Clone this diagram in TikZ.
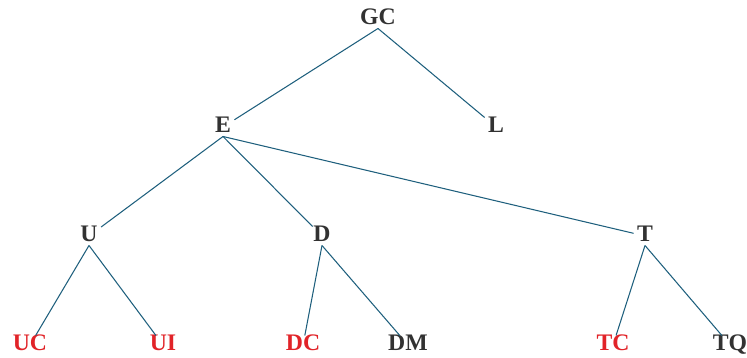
\documentclass[tikz,border=0pt]{standalone}
\usepackage{fontspec}
\setmainfont{Liberation Serif}
\definecolor{edgeblue}{RGB}{30,95,125}
\definecolor{leafred}{RGB}{225,35,40}
\definecolor{darktext}{RGB}{50,50,50}
\begin{document}
\begin{tikzpicture}[x=0.02cm,y=-0.02cm,
    lbl/.style={inner sep=1.8pt,text height=0.68em,text depth=0pt,
        font=\fontsize{13.5}{16}\selectfont\bfseries,text=darktext},
    redlbl/.style={lbl,text=leafred},
    edge/.style={draw=edgeblue,line width=0.6pt}]
            \useasboundingbox (0,0) rectangle (747,358);
            % levels
            \node[lbl] (GC) at (378,19) {GC};
            \node[lbl] (E) at (223,127) {E};
            \node[lbl] (L) at (496,127) {L};
            \node[lbl] (U) at (89,236) {U};
            \node[lbl] (D) at (322,236) {D};
            \node[lbl] (T) at (645,236) {T};
            \node[redlbl] (UC) at (30,345) {UC};
            \node[redlbl] (UI) at (163,345) {UI};
            \node[redlbl] (DC) at (303,345) {DC};
            \node[lbl] (DM) at (408,345) {DM};
            \node[redlbl] (TC) at (613,345) {TC};
            \node[lbl] (TQ) at (730,345) {TQ};
            % edges
            \draw[edge] (GC.south)--(E);
            \draw[edge] (GC.south)--(L);
            \draw[edge] (E.south)--(U);
            \draw[edge] (E.south)--(D);
            \draw[edge] (E.south)--(T);
            \draw[edge] (U.south)--(UC);
            \draw[edge] (U.south)--(UI);
            \draw[edge] (D.south)--(DC);
            \draw[edge] (D.south)--(DM);
            \draw[edge] (T.south)--(TC);
            \draw[edge] (T.south)--(TQ);
        \end{tikzpicture}
\end{document}
